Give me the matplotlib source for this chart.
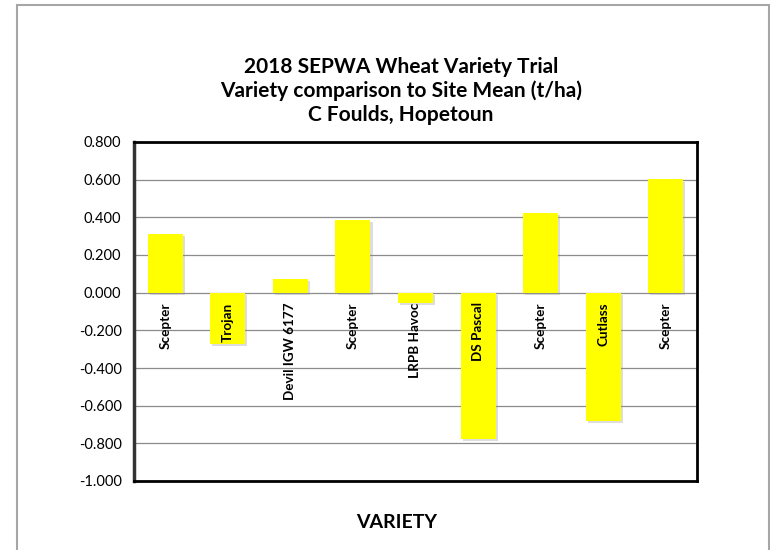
import matplotlib
matplotlib.use("Agg")
import matplotlib.pyplot as plt
import matplotlib.patheffects as pe
from matplotlib.patches import Rectangle
from matplotlib.ticker import FuncFormatter

varieties = ["Scepter", "Trojan", "Devil IGW 6177", "Scepter", "LRPB Havoc",
             "DS Pascal", "Scepter", "Cutlass", "Scepter"]
diff_to_mean = [0.313, -0.270, 0.073, 0.384, -0.054, -0.779, 0.421, -0.682, 0.601]
y_ticks = [-1.0, -0.8, -0.6, -0.4, -0.2, 0.0, 0.2, 0.4, 0.6, 0.8]
title_lines = ["2018 SEPWA Wheat Variety Trial",
               "Variety comparison to Site Mean (t/ha)",
               "C Foulds, Hopetoun"]
x_title = "VARIETY"

plt.rcParams['font.family'] = ['Lato', 'DejaVu Sans']

W, H = 770, 550
fig = plt.figure(figsize=(W / 100, H / 100), dpi=100)
fig.patch.set_facecolor("white")

# outer chart border
fig.add_artist(Rectangle((17 / W, -0.1), (769 - 17) / W, 1.1 - 4.5 / H,
                         transform=fig.transFigure, fill=False,
                         edgecolor="#A6A6A6", linewidth=1.5))

left, right, top, bottom = 134, 697, 142, 481
ax = fig.add_axes([left / W, 1 - bottom / H, (right - left) / W, (bottom - top) / H])

x = list(range(len(varieties)))
bars = ax.bar(x, diff_to_mean, width=0.56, color="#FFFF00", edgecolor="none", zorder=3)
for b in bars:
    b.set_path_effects([pe.SimplePatchShadow(offset=(1.5, -1.5), shadow_rgbFace="#909090", alpha=0.3),
                        pe.Normal()])

ax.set_xlim(-0.5, len(varieties) - 0.5)
ax.set_ylim(-1.0, 0.8)
ax.set_yticks(y_ticks)
ax.yaxis.set_major_formatter(FuncFormatter(lambda v, p: f"{v:.3f}"))
ax.set_xticks([])
ax.tick_params(axis="y", length=0, pad=9, labelsize=10.5)
ax.grid(axis="y", color="#8C8C8C", linewidth=0.9, zorder=0)
ax.set_axisbelow(True)
for s in ax.spines.values():
    s.set_linewidth(2)
    s.set_color("black")
    s.set_zorder(5)
ax.spines["left"].set_color("#333333")
ax.spines["left"].set_linewidth(2.5)

for xi, name in zip(x, varieties):
    ax.annotate(name, (xi, 0), xytext=(0, -7), textcoords="offset points",
                rotation=90, ha="center", va="top", fontsize=9.7, fontweight="bold",
                zorder=6)

for i, line in enumerate(title_lines):
    fig.text(401 / W, 1 - (67 + 24 * i) / H, line, ha="center", va="center",
             fontsize=15, fontweight="bold")

fig.text(397 / W, 1 - 522 / H, x_title, ha="center", va="center",
         fontsize=14, fontweight="bold")

fig.savefig("out.png", dpi=100)
